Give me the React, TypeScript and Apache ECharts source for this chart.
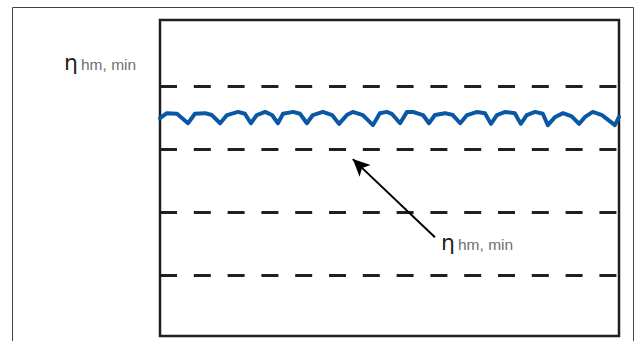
import React, { useEffect, useRef } from "react";
import * as echarts from "echarts";

// Wavy efficiency curve (x: 0..100 across the plot, y: value units where dashed levels are 1..4)
const waveX = [
  0, 1.5, 3.7, 6.1, 7.6, 9.8, 11.3, 13.1, 14.6, 17.0, 18.5, 19.8, 21.1, 22.9, 24.4, 25.7,
  26.8, 29.0, 30.5, 32.0, 33.3, 35.5, 37.5, 39.0, 40.7, 42.0, 44.2, 46.4, 47.9, 49.4, 50.5,
  52.3, 53.8, 55.1, 57.3, 58.6, 59.9, 62.1, 63.8, 65.4, 66.9, 69.1, 70.8, 72.1, 73.4, 75.2,
  77.3, 78.6, 79.9, 81.7, 83.4, 84.5, 86.1, 87.8, 89.7, 91.3, 92.6, 94.3, 96.3, 99.1, 100,
];
const waveY = [
  3.49, 3.57, 3.56, 3.41, 3.56, 3.57, 3.54, 3.41, 3.54, 3.59, 3.56, 3.41, 3.54, 3.59, 3.54, 3.41,
  3.56, 3.59, 3.56, 3.41, 3.54, 3.59, 3.54, 3.40, 3.54, 3.59, 3.54, 3.38, 3.57, 3.59, 3.56,
  3.41, 3.59, 3.59, 3.54, 3.41, 3.54, 3.57, 3.54, 3.41, 3.54, 3.59, 3.57, 3.40, 3.54, 3.59,
  3.57, 3.40, 3.54, 3.59, 3.56, 3.38, 3.51, 3.57, 3.52, 3.40, 3.51, 3.59, 3.54, 3.38, 3.51,
];
const dashedLevels = [1, 2, 3, 4];
const arrowFrom = [59.9, 1.6];
const arrowTo = [42.0, 2.84];
const labelMain = "η";
const labelSub = "hm, min";

export default function App() {
  const ref = useRef<HTMLDivElement>(null);
  useEffect(() => {
    if (!ref.current) return;
    const chart = echarts.init(ref.current, null, { renderer: "svg" });
    const dark = "#231f20";
    const gray = "#6d6e71";
    const mkLabel = (x: number, baseline: number) => [
      {
        type: "text",
        x,
        y: baseline - 7.6,
        style: {
          text: labelMain,
          font: "22px 'DejaVu Sans'",
          fill: dark,
          verticalAlign: "middle",
          align: "left",
        },
      },
      {
        type: "text",
        x: x + 17,
        y: baseline - 5.4,
        style: {
          text: labelSub,
          font: "15.5px 'Liberation Sans'",
          fill: gray,
          verticalAlign: "middle",
          align: "left",
        },
      },
    ];
    chart.setOption({
      animation: false,
      grid: {
        left: 160,
        right: 17,
        top: 20,
        bottom: 5,
        show: true,
        borderColor: dark,
        borderWidth: 2.5,
        backgroundColor: "transparent",
      },
      xAxis: {
        type: "value",
        min: 0,
        max: 100,
        axisLine: { show: false },
        axisTick: { show: false },
        axisLabel: { show: false },
        splitLine: { show: false },
      },
      yAxis: {
        type: "value",
        min: 0.03,
        max: 5.05,
        axisLine: { show: false },
        axisTick: { show: false },
        axisLabel: { show: false },
        splitLine: { show: false },
      },
      graphic: [
        {
          type: "rect",
          shape: { x: 12.5, y: 7.5, width: 621, height: 400 },
          style: { fill: "none", stroke: "#444", lineWidth: 1 },
          silent: true,
          z: -1,
        },
        ...mkLabel(64, 70),
        ...mkLabel(441, 250),
      ],
      series: [
        {
          type: "line",
          data: waveX.map((x, i) => [x, waveY[i]]),
          showSymbol: false,
          symbol: "none",
          lineStyle: { color: "#0a58a5", width: 4, join: "round", cap: "round" },
          silent: true,
          z: 3,
          markLine: {
            silent: true,
            symbol: ["none", "none"],
            label: { show: false },
            lineStyle: { color: dark, width: 3, type: [17, 16.8] },
            data: dashedLevels.map((v) => ({ yAxis: v })),
          },
        },
        {
          type: "line",
          data: [],
          markLine: {
            silent: true,
            symbol: ["none", "arrow"],
            symbolSize: [12, 17],
            label: { show: false },
            lineStyle: { color: "#000", width: 2, type: "solid" },
            data: [[{ coord: arrowFrom }, { coord: arrowTo }]],
          },
        },
      ],
    });
    return () => chart.dispose();
  }, []);
  return (
    <div
      ref={ref}
      style={{ position: "fixed", left: 0, top: 0, width: 636, height: 341, background: "#fff" }}
    />
  );
}
